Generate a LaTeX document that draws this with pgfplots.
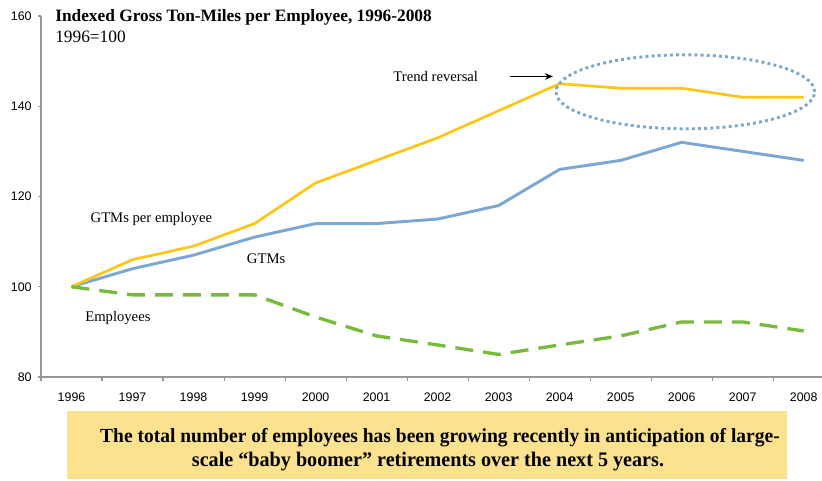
\documentclass[border=0pt]{standalone}
\usepackage{pgfplots}
\pgfplotsset{compat=1.18}
\usepackage{fontspec}
\setmainfont{Liberation Serif}
\setsansfont{Liberation Sans}
\newfontfamily\boxfont[FakeStretch=0.975]{Liberation Serif}
\usetikzlibrary{arrows.meta}

\definecolor{gtmblue}{RGB}{122,167,211}
\definecolor{gtmgold}{RGB}{255,196,20}
\definecolor{empgreen}{RGB}{120,187,60}
\definecolor{notefill}{RGB}{252,226,142}
\definecolor{axisgray}{RGB}{150,150,150}

% Indexed series, 1996 = 100 (x = 0 ... 12 for 1996 ... 2008)
\pgfplotstableread{
x  y
0  100
1  104
2  107
3  111
4  114
5  114
6  115
7  118
8  126
9  128
10 132
11 130
12 128
}\gtms
\pgfplotstableread{
x  y
0  100
1  106
2  109
3  114
4  123
5  128
6  133
7  139
8  145
9  144
10 144
11 142
12 142
}\gtmsperemp
\pgfplotstableread{
x  y
0  100
1  98.2
2  98.2
3  98.2
4  93.3
5  89.1
6  87.1
7  85.0
8  87.1
9  89.1
10 92.2
11 92.2
12 90.2
}\employees

\begin{document}
\begin{tikzpicture}
\path[use as bounding box] (0pt,0pt) rectangle (616.5pt,360.75pt);
\begin{axis}[
  at={(30.75pt,78pt)}, anchor=south west,
  scale only axis, width=585.75pt, height=270.75pt,
  xmin=-0.5, xmax=12.3, ymin=80, ymax=160,
  axis x line*=bottom, axis y line*=left,
  axis line style={axisgray, line width=0.8pt},
  xtick={0,...,12},
  xticklabels={1996,1997,1998,1999,2000,2001,2002,2003,2004,2005,2006,2007,2008},
  major x tick style={draw=none},
  minor xtick={-0.5,0.5,...,11.5},
  minor tick length=3pt,
  minor x tick style={axisgray, line width=0.8pt},
  ytick={80,100,...,160},
  major tick length=2.5pt,
  y tick style={axisgray, line width=0.8pt},
  tick align=outside,
  /pgf/number format/assume math mode=true,
  ticklabel style={font=\sffamily\fontsize{9.3}{11}\selectfont},
  xticklabel style={yshift=-6pt},
  yticklabel style={xshift=-1pt},
  clip=false,
]
\addplot[gtmblue, line width=2.2pt, line join=round] table {\gtms};
\addplot[gtmgold, line width=2pt, line join=round] table {\gtmsperemp};
\addplot[empgreen, line width=2.5pt, dash pattern=on 13.5pt off 7.5pt] table {\employees};

\draw[gtmblue, line width=2.2pt, dash pattern=on 2.2pt off 2.4pt]
  (axis cs:10.06,143.2) ellipse [x radius=2.12, y radius=8.2];

\draw[-{Stealth[length=6pt,width=5pt]}, line width=0.9pt, black]
  (axis cs:7.18,146.6) -- (axis cs:7.89,146.6);
\node[font=\fontsize{11}{13}\selectfont] at (axis cs:5.97,146.6) {Trend reversal};
\node[anchor=west, inner sep=0pt, font=\fontsize{11}{13}\selectfont] at (axis cs:0.31,115.1) {GTMs per employee};
\node[font=\fontsize{11}{13}\selectfont] at (axis cs:3.19,106.2) {GTMs};
\node[font=\fontsize{11}{13}\selectfont] at (axis cs:0.76,93.1) {Employees};
\end{axis}

% heading
\node[anchor=west, inner sep=0pt, font=\bfseries\fontsize{13}{15}\selectfont] at (41.25pt,348pt)
  {Indexed Gross Ton-Miles per Employee, 1996-2008};
\node[anchor=west, inner sep=0pt, font=\fontsize{13}{15}\selectfont] at (41.25pt,333pt) {1996=100};

% note box
\fill[notefill] (50pt,1.5pt) rectangle (590pt,52.5pt);
\node[font=\boxfont\bfseries\fontsize{15}{18}\selectfont] at (330pt,32.5pt)
  {The total number of employees has been growing recently in anticipation of large-};
\node[font=\boxfont\bfseries\fontsize{15.5}{18}\selectfont] at (321pt,14.5pt)
  {scale “baby boomer” retirements over the next 5 years.};
\end{tikzpicture}
\end{document}
